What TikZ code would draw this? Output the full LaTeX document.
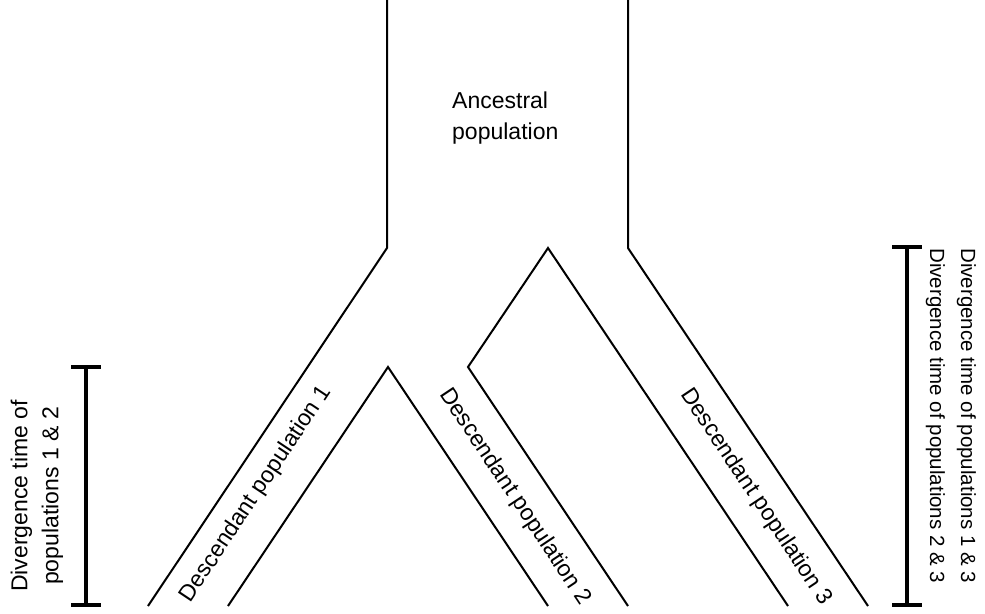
\documentclass[tikz,border=0pt]{standalone}
\usepackage{fontspec}
\setmainfont{Liberation Sans}
\begin{document}
\begin{tikzpicture}[x=1pt,y=-1pt,
  branch/.style={line width=2pt,line join=miter},
  bar/.style={line width=4.5pt},
  lbl/.style={inner sep=0pt,font=\fontsize{23}{31}\selectfont},
  rlbl/.style={inner sep=0pt,font=\fontsize{20.5}{31}\selectfont}]
\useasboundingbox (0,0) rectangle (985,613);
% coordinates
\coordinate (LT) at (387,0);
\coordinate (LE) at (387,248);
\coordinate (LB) at (148,606);
\coordinate (RT) at (628,0);
\coordinate (RE) at (628,248);
\coordinate (RB) at (868,606);
\coordinate (P12) at (388,367);
\coordinate (P12a) at (228,606);
\coordinate (P12b) at (548,606);
\coordinate (P23) at (548,248);
\coordinate (E23) at (468,367);
\coordinate (E23b) at (628,606);
\coordinate (P23b) at (788,606);
% branches
\draw[branch] (LT) -- (LE) -- (LB);
\draw[branch] (RT) -- (RE) -- (RB);
\draw[branch] (P12a) -- (P12) -- (P12b);
\draw[branch] (E23b) -- (E23) -- (P23) -- (P23b);
% scale bars
\coordinate (B1t) at (86,367);
\coordinate (B1b) at (86,605);
\draw[bar] (B1t) -- (B1b);
\draw[bar] ([xshift=-15pt]B1t) -- ([xshift=15pt]B1t);
\draw[bar] ([xshift=-15pt]B1b) -- ([xshift=15pt]B1b);
\coordinate (B2t) at (907,247);
\coordinate (B2b) at (907,605);
\draw[bar] (B2t) -- (B2b);
\draw[bar] ([xshift=-15pt]B2t) -- ([xshift=15pt]B2t);
\draw[bar] ([xshift=-15pt]B2b) -- ([xshift=15pt]B2b);
% labels
\node[lbl,align=left,anchor=north west] (anc) at (452,92) {Ancestral\\population};
\node[lbl,rotate=56.3] (d1) at (256,494) {Descendant population 1};
\node[lbl,rotate=-56.3] (d2) at (515,497) {Descendant population 2};
\node[lbl,rotate=-56.3] (d3) at (756,497) {Descendant population 3};
\node[lbl,rotate=90,align=center] (t12) at (37,496) {Divergence time of\\populations 1 \& 2};
\node[rlbl,rotate=-90,align=left,anchor=west] (t13) at (951,248) {Divergence time of populations 1 \& 3\\Divergence time of populations 2 \& 3};
\end{tikzpicture}
\end{document}
